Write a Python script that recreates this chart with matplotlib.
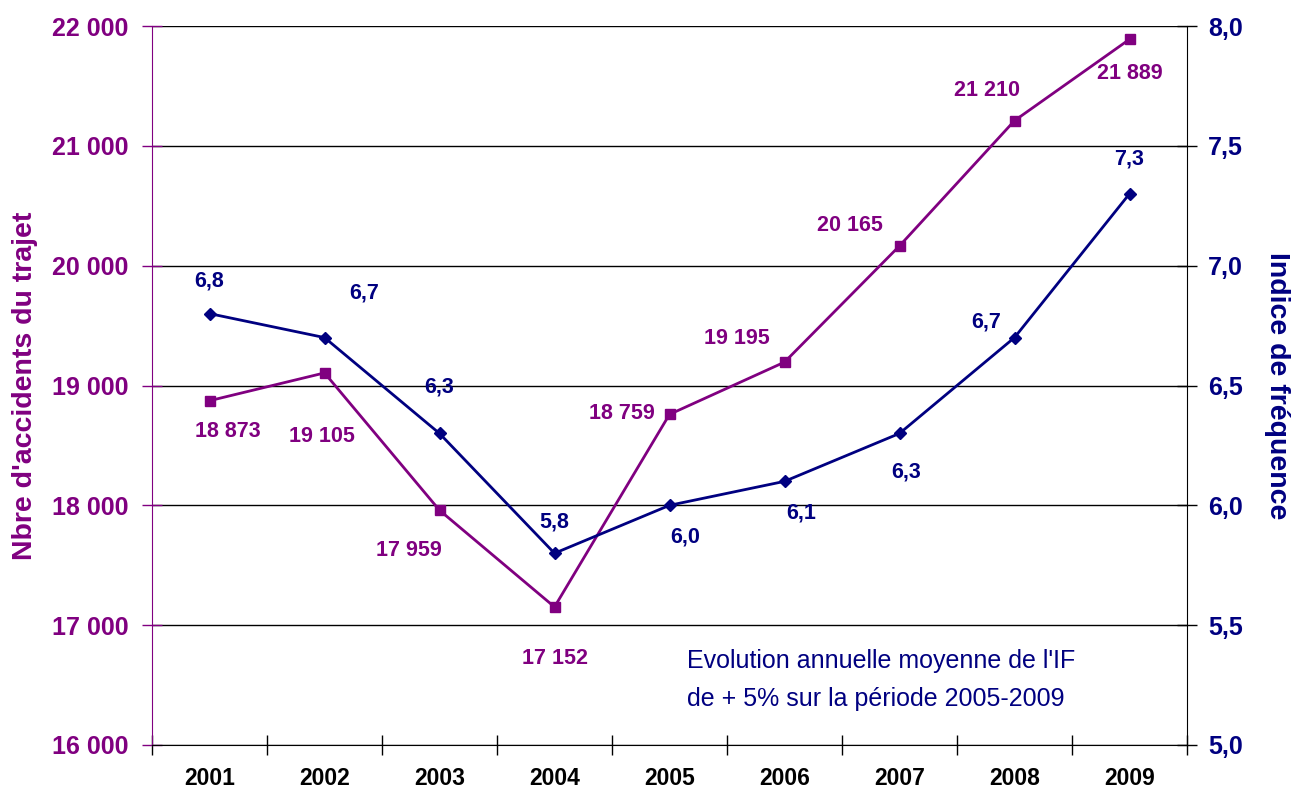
import numpy as np
import matplotlib.pyplot as plt

plt.rcParams['font.family'] = ['Liberation Sans', 'DejaVu Sans']

years      = ['2001', '2002', '2003', '2004', '2005', '2006', '2007', '2008', '2009']
accidents  = [18873, 19105, 17959, 17152, 18759, 19195, 20165, 21210, 21889]
indice     = [6.8, 6.7, 6.3, 5.8, 6.0, 6.1, 6.3, 6.7, 7.3]

# label offsets in pixels (dx, dy) relative to marker
acc_off = [(18, -31), (-3, -64), (-31, -40), (0, -52), (-48, 1), (-48, 24), (-50, 20), (-28, 30), (0, -34)]
ind_off = [(0, 33), (40, 45), (0, 46), (0, 31), (16, -32), (17, -32), (7, -39), (-28, 16), (0, 35)]

PURPLE = '#800080'
NAVY   = '#000080'

def fmt_thousands(v):
    return '{:,}'.format(int(v)).replace(',', ' ')

def fmt_dec(v):
    return '{:.1f}'.format(v).replace('.', ',')

fig = plt.figure(figsize=(12.92, 7.93), dpi=100)
ax  = fig.add_axes([152/1292, 48/793, (1187-152)/1292, (745-26)/793])
ax2 = ax.twinx()

x = np.arange(len(years))

ax.plot(x, accidents, '-s', color=PURPLE, lw=2.0, ms=7, zorder=3)
ax2.plot(x, indice, '-D', color=NAVY, lw=2.0, ms=6.5, zorder=3)

for xi, v, (dx, dy) in zip(x, accidents, acc_off):
    ax.annotate(fmt_thousands(v), (xi, v), xytext=(dx, dy), textcoords='offset pixels',
                ha='center', va='center', color=PURPLE, fontsize=15.5, fontweight='bold')

for xi, v, (dx, dy) in zip(x, indice, ind_off):
    ax2.annotate(fmt_dec(v), (xi, v), xytext=(dx, dy), textcoords='offset pixels',
                 ha='center', va='center', color=NAVY, fontsize=15.5, fontweight='bold')

ax.set_xlim(-0.5, len(years) - 0.5)
ax.set_ylim(16000, 22000)
ax2.set_ylim(5.0, 8.0)

ax.set_yticks(np.arange(16000, 22001, 1000))
ax.set_yticklabels([fmt_thousands(v) for v in np.arange(16000, 22001, 1000)])
ax2.set_yticks(np.arange(5.0, 8.01, 0.5))
ax2.set_yticklabels([fmt_dec(v) for v in np.arange(5.0, 8.01, 0.5)])

ax.set_xticks(x)
ax.set_xticklabels(years)
ax.set_xticks(np.arange(-0.5, len(years), 1), minor=True)
ax.tick_params(axis='x', which='major', length=0, pad=16, labelsize=16.5)
ax.tick_params(axis='x', which='minor', direction='inout', length=14, width=1, color='black')
for lab in ax.get_xticklabels():
    lab.set_fontweight('bold')

ax.tick_params(axis='y', direction='inout', length=14, width=1, color=PURPLE,
               labelcolor=PURPLE, labelsize=18, pad=10)
for lab in ax.get_yticklabels():
    lab.set_fontweight('bold')
ax2.tick_params(axis='y', direction='inout', length=14, width=1, color='black',
                labelcolor=NAVY, labelsize=18, pad=8)
for lab in ax2.get_yticklabels():
    lab.set_fontweight('bold')

ax.grid(axis='y', color='black', lw=1)
ax.set_axisbelow(True)

for a in (ax, ax2):
    a.spines['top'].set_visible(False)
ax.spines['left'].set_color(PURPLE)
ax2.spines['left'].set_visible(False)
ax.spines['right'].set_visible(False)
ax2.spines['right'].set_color('black')
ax2.spines['bottom'].set_visible(False)

ax.set_ylabel("Nbre d'accidents du trajet", color=PURPLE, fontsize=20.5, fontweight='bold', labelpad=10)
ax2.set_ylabel("Indice de fréquence", color=NAVY, fontsize=20.5, fontweight='bold',
               rotation=270, labelpad=34)

ax2.text(0.517, 0.090, "Evolution annuelle moyenne de l'IF\nde + 5% sur la période 2005-2009",
         transform=ax2.transAxes, color=NAVY, fontsize=18, ha='left', va='center',
         linespacing=1.75)

fig.savefig('out.png', dpi=100)
